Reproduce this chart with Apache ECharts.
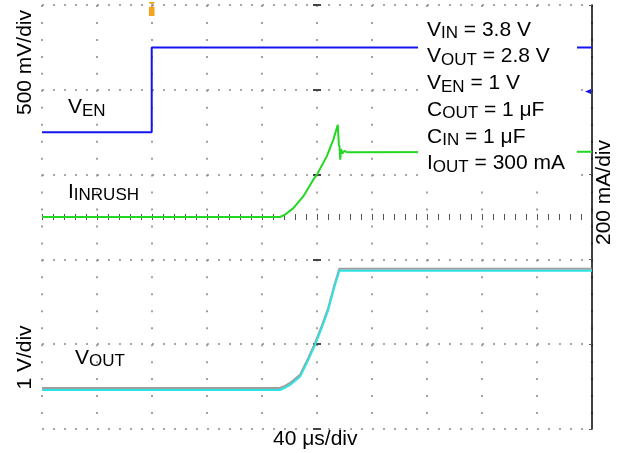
<!DOCTYPE html>
<html><head><meta charset="utf-8">
<script src="https://cdn.jsdelivr.net/npm/echarts@6/dist/echarts.min.js"></script>
<style>html,body{margin:0;padding:0;background:#fff}#c{width:621px;height:453px}</style>
</head><body><div id="c"></div>
<script>
// ---- data (time in µs relative to screen centre) ----
const enTimeUs = [-200, -120.2, -120.2, 200];
const enVolts  = [0, 0, 1.0, 1.0];

const inrushTimeUs    = [-200, -26.9, -23.3, -17.2, -10.0, -2.7, 0.2, 7.1, 11.9, 15.1, 15.9, 16.4, 16.9, 17.5, 18.5, 20.0, 22.0, 200];
const inrushMilliAmps = [0, 0, 11, 42, 97, 176, 203, 286, 365, 435, 341, 330, 270, 320, 300, 312, 305, 308];

const outTimeUs = [-200, -26.9, -23.3, -19.6, -12.4, -6.3, -1.5, 3.4, 8.2, 12.4, 16.2, 200];
const outVolts  = [0, 0, 0.05, 0.12, 0.31, 0.71, 1.06, 1.46, 1.89, 2.40, 2.81, 2.81];

const timeRangeUs = [-200, 200];
const timePerDivUs = 40;
const verticalDivs = 10;
const enVoltsPerDiv = 0.5, inrushMaPerDiv = 200, outVoltsPerDiv = 1;
const enZeroDiv = 7, inrushZeroDiv = 5, outZeroDiv = 0.92;   // ground position, divisions above bottom
const triggerTimeUs = -120.2, triggerLevelV = 0.48;

const conditionLines = [
  ['V', 'IN', ' = 3.8 V'], ['V', 'OUT', ' = 2.8 V'], ['V', 'EN', ' = 1 V'],
  ['C', 'OUT', ' = 1 μF'], ['C', 'IN', ' = 1 μF'], ['I', 'OUT', ' = 300 mA']
];
const traceLabels = { en: ['V', 'EN'], inrush: ['I', 'INRUSH'], out: ['V', 'OUT'] };
const axisTitles = { en: '500 mV/div', out: '1 V/div', inrush: '200 mA/div', time: '40 μs/div' };

// ---- build ----
const zip = (a, b) => a.map((v, i) => [v, b[i]]);
const chRange = (perDiv, zeroDiv) => ({ min: -zeroDiv * perDiv, max: (verticalDivs - zeroDiv) * perDiv });
const enR = chRange(enVoltsPerDiv, enZeroDiv);
const inR = chRange(inrushMaPerDiv, inrushZeroDiv);
const outR = chRange(outVoltsPerDiv, outZeroDiv);

const FONT = '"Liberation Sans", Arial, sans-serif';
const MAIN = 21, SUB = 17;
const rich = {
  m: { font: MAIN + 'px ' + FONT, fill: '#000', lineHeight: 24 },
  s: { font: SUB + 'px ' + FONT, fill: '#000', lineHeight: 12, verticalAlign: 'bottom' }
};
const subText = (p) => `{m|${p[0]}}{s|${p[1]}}` + (p[2] ? `{m|${p[2]}}` : '');
const textEl = (txt, x, y, extra) => Object.assign({
  type: 'text', x: x, y: y, z: 101,
  style: { text: txt, rich: rich, x: 0, y: 0, align: 'left', textAlign: 'left', verticalAlign: 'top', textVerticalAlign: 'top' }
}, extra || {});
const rotEl = (txt, x, y) => ({
  type: 'text', x: x, y: y, rotation: Math.PI / 2, z: 101,
  style: { text: txt, x: 0, y: 0, font: MAIN + 'px ' + FONT, fill: '#000',
    align: 'center', textAlign: 'center', verticalAlign: 'middle', textVerticalAlign: 'middle' }
});

const DOT = '#8a8a8a', TICK = '#555';
const gridAxisY = (pos, extra) => Object.assign({
  type: 'value', position: pos, min: 0, max: verticalDivs, interval: 2,
  axisLabel: { show: false }, splitLine: { show: false },
  axisLine: { show: false, onZero: true, onZeroAxisIndex: 0 },
  axisTick: { show: true, length: 4, lineStyle: { color: '#444', width: 2 } }
}, extra || {});
const hiddenY = (r) => ({ type: 'value', show: false, min: r.min, max: r.max, axisLine: { onZero: false } });

const option = {
  animation: false,
  backgroundColor: '#fff',
  grid: { left: 42, right: 29, top: 5, bottom: 24 },
  xAxis: [
    {
      type: 'value', position: 'bottom', min: timeRangeUs[0], max: timeRangeUs[1], interval: timePerDivUs,
      axisLabel: { show: false },
      axisLine: { show: false, onZero: true, onZeroAxisIndex: 4 },
      axisTick: { show: true, length: 3, lineStyle: { color: TICK, width: 1 } },
      minorTick: { show: true, splitNumber: 5, length: 3, lineStyle: { color: TICK, width: 1 } },
      splitLine: { show: true, lineStyle: { color: DOT, width: 1.6, type: [2, 14.96] } }
    },
    {
      type: 'value', position: 'top', min: timeRangeUs[0], max: timeRangeUs[1], interval: timePerDivUs,
      axisLabel: { show: false },
      axisLine: { show: false, onZero: true, onZeroAxisIndex: 4 },
      axisTick: { show: true, length: 3, lineStyle: { color: TICK, width: 1 } },
      minorTick: { show: true, splitNumber: 5, length: 3, lineStyle: { color: TICK, width: 1 } },
      splitLine: { show: false }
    }
  ],
  yAxis: [
    gridAxisY('left', { splitLine: { show: true, lineStyle: { color: DOT, width: 1.6, type: [2, 9] } } }),
    gridAxisY('right'),
    {
      type: 'value', position: 'right', min: 0, max: verticalDivs, interval: 2,
      axisLabel: { show: false }, splitLine: { show: false },
      axisLine: { show: true, onZero: false, lineStyle: { color: '#000', width: 1.5 } },
      axisTick: { show: true, inside: true, length: 3, lineStyle: { color: TICK, width: 1 } }
    },
    hiddenY(enR),
    hiddenY(inR),
    hiddenY(outR)
  ],
  series: [
    {
      name: 'VEN', type: 'line', xAxisIndex: 0, yAxisIndex: 3, data: zip(enTimeUs, enVolts),
      showSymbol: false, lineStyle: { color: '#1414f0', width: 2 }, z: 3,
      markPoint: {
        label: { show: false },
        data: [
          { coord: [triggerTimeUs, enR.max], symbol: 'path://M0,0L10,0L5,4Z M1,6L9,6L9,18L1,18Z',
            symbolSize: [7, 14], symbolOffset: [0, 4], itemStyle: { color: '#f5a31f' } },
          { coord: [timeRangeUs[1], triggerLevelV], symbol: 'triangle', symbolRotate: 90,
            symbolSize: [5, 6], symbolOffset: [-4, 0], itemStyle: { color: '#1414f0' } }
        ]
      }
    },
    {
      name: 'IINRUSH', type: 'line', xAxisIndex: 0, yAxisIndex: 4, data: zip(inrushTimeUs, inrushMilliAmps),
      showSymbol: false, lineStyle: { color: '#22d822', width: 2 }, z: 3
    },
    {
      name: 'VOUT', type: 'line', xAxisIndex: 0, yAxisIndex: 5, data: zip(outTimeUs, outVolts),
      showSymbol: false, z: 3,
      lineStyle: { color: '#2fe2e2', width: 2, shadowColor: 'rgba(140,140,140,0.85)', shadowBlur: 0, shadowOffsetY: -2 }
    }
  ],
  graphic: { elements: [
    { type: 'rect', z: 100, shape: { x: 418, y: 12, width: 159, height: 165 }, style: { fill: '#fff' } },
    ...conditionLines.map((p, i) => textEl(subText(p), 427, 18 + i * 26.7)),
    textEl(subText(traceLabels.en), 68, 95.5),
    textEl(subText(traceLabels.inrush), 68, 180.3),
    textEl(subText(traceLabels.out), 75, 346),
    textEl(`{m|${axisTitles.time}}`, 273, 427.5),
    rotEl(axisTitles.en, 25, 62.5),
    rotEl(axisTitles.out, 25, 357.5),
    rotEl(axisTitles.inrush, 604, 192.5)
  ] }
};
const chart = echarts.init(document.getElementById('c'), null, { renderer: 'canvas' });
chart.setOption(option);
</script></body></html>
